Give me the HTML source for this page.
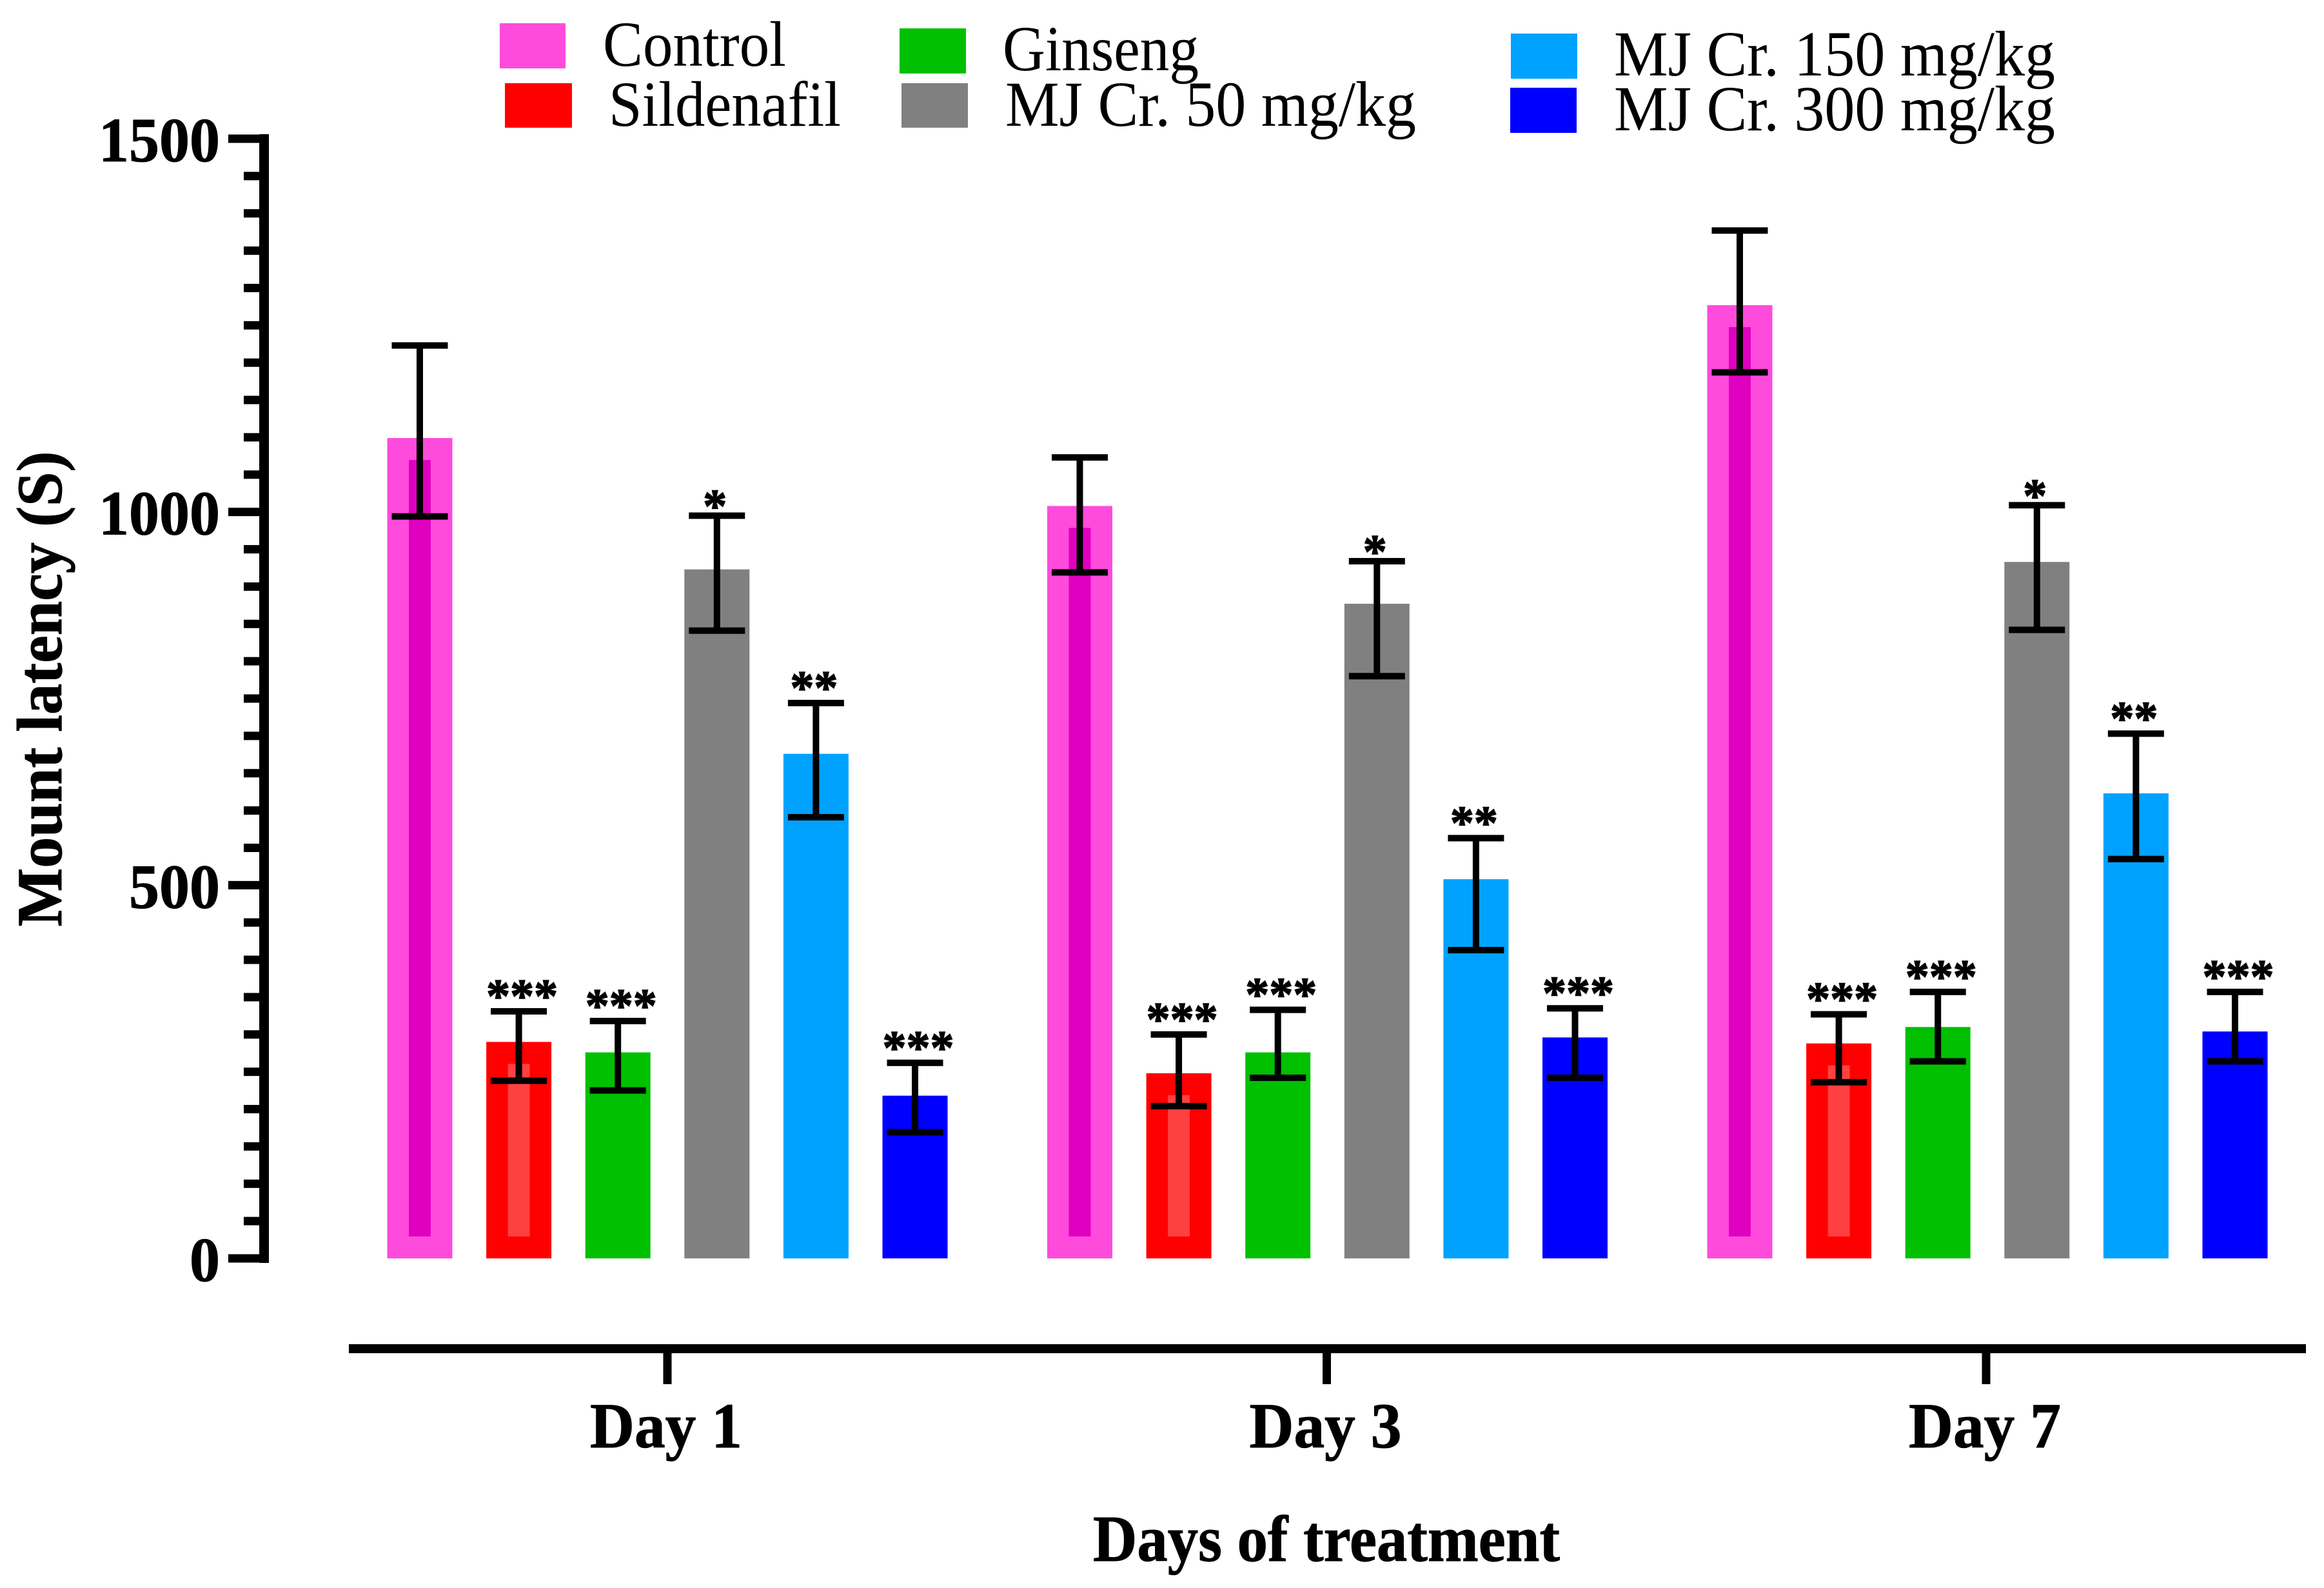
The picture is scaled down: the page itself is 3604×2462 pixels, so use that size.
<!DOCTYPE html>
<html>
<head>
<meta charset="utf-8">
<title>Mount latency chart</title>
<style>
html,body{margin:0;padding:0;background:#fff;width:3604px;height:2462px;overflow:hidden}
svg{display:block}
text{font-family:"Liberation Serif",serif;fill:#000}
.b{font-weight:bold;stroke:#000;stroke-width:1}
</style>
</head>
<body>
<svg id="chart" xmlns="http://www.w3.org/2000/svg" width="3604" height="2462" viewBox="0 0 3604 2462">
  <rect x="0" y="0" width="3604" height="2462" fill="#fff"/>
  <g>
    <g>
      <rect x="775" y="36" width="102" height="70" fill="#FF4BDC"/>
      <text x="935" y="102" font-size="100" textLength="284" lengthAdjust="spacingAndGlyphs">Control</text>
    </g>
    <g>
      <rect x="783" y="129" width="104" height="69" fill="#FF0000"/>
      <text x="944" y="195" font-size="100" textLength="360" lengthAdjust="spacingAndGlyphs">Sildenafil</text>
    </g>
    <g>
      <rect x="1395" y="44" width="103" height="70" fill="#00C000"/>
      <text x="1555" y="109" font-size="100" textLength="304" lengthAdjust="spacingAndGlyphs">Ginseng</text>
    </g>
    <g>
      <rect x="1398" y="129" width="103" height="69" fill="#808080"/>
      <text x="1559" y="195" font-size="100" textLength="637" lengthAdjust="spacingAndGlyphs">MJ Cr. 50 mg/kg</text>
    </g>
    <g>
      <rect x="2343" y="52" width="103" height="70" fill="#00A2FF"/>
      <text x="2503" y="117" font-size="100" textLength="684" lengthAdjust="spacingAndGlyphs">MJ Cr. 150 mg/kg</text>
    </g>
    <g>
      <rect x="2342" y="136" width="103" height="70" fill="#0000FF"/>
      <text x="2503" y="202" font-size="100" textLength="684" lengthAdjust="spacingAndGlyphs">MJ Cr. 300 mg/kg</text>
    </g>
  </g>
  <text class="b" transform="translate(95,1068) rotate(-90)" text-anchor="middle" font-size="100" textLength="737" lengthAdjust="spacingAndGlyphs">Mount latency (S)</text>
  <text class="b" x="2057" y="2420" text-anchor="middle" font-size="102" textLength="724" lengthAdjust="spacingAndGlyphs">Days of treatment</text>
  <g id="y-axis"></g>
  <g id="x-axis"></g>
  <g id="bars"></g>
  <g id="errors"></g>
  <g id="stars"></g>
</svg>
<script>
const days = ["Day 1", "Day 3", "Day 7"];
const seriesNames = ["control", "sildenafil", "ginseng", "mj-cr-50", "mj-cr-150", "mj-cr-300"];
const seriesColors = ["#FF4BDC", "#FF0000", "#00C000", "#808080", "#00A2FF", "#0000FF"];
const significance = ["", "***", "***", "*", "**", "***"];
const yTickLabels = [0, 500, 1000, 1500];

const controlValues = [1099, 1008, 1277];
const sildenafilValues = [290, 248, 288];
const ginsengValues = [276, 276, 310];
const mj50Values = [923, 877, 933];
const mj150Values = [676, 508, 623];
const mj300Values = [218, 296, 304];

const controlUpper = [1223, 1073, 1377];
const sildenafilUpper = [331, 300, 327];
const ginsengUpper = [318, 333, 357];
const mj50Upper = [995, 934, 1009];
const mj150Upper = [744, 563, 703];
const mj300Upper = [262, 335, 357];

const controlLower = [994, 919, 1187];
const sildenafilLower = [238, 204, 236];
const ginsengLower = [225, 242, 264];
const mj50Lower = [841, 780, 842];
const mj150Lower = [591, 413, 535];
const mj300Lower = [169, 242, 264];

const seriesValues = [controlValues, sildenafilValues, ginsengValues, mj50Values, mj150Values, mj300Values];
const seriesUpper = [controlUpper, sildenafilUpper, ginsengUpper, mj50Upper, mj150Upper, mj300Upper];
const seriesLower = [controlLower, sildenafilLower, ginsengLower, mj50Lower, mj150Lower, mj300Lower];

const NS = "http://www.w3.org/2000/svg";
const Y0 = 1951, PX_PER_UNIT = 1.1573;
const BAR_W = 101, CAP_W = 87, CAP_T = 10, STEM_W = 10;
const INNER_W = 34, INNER_INSET = 34;
const yScale = v => Y0 - v * PX_PER_UNIT;
const xBar = (d, s) => 651 + d * 1023.5 + s * 153.6;
const xDay = d => 1035 + d * 1022.5;

function mk(tag, attrs, parent) {
  const el = document.createElementNS(NS, tag);
  for (const k in attrs) el.setAttribute(k, attrs[k]);
  parent.appendChild(el);
  return el;
}

const yAxis = document.getElementById("y-axis");
const xAxis = document.getElementById("x-axis");
const barsG = document.getElementById("bars");
const errG = document.getElementById("errors");
const starsG = document.getElementById("stars");

const yLine = mk("rect", {x: 402, y: yScale(1500) - 7, width: 15, height: yScale(0) - yScale(1500) + 14, fill: "#000"}, yAxis);



for (let v = 0; v <= 1500; v += 50) {
  const major = v % 500 === 0;
  const x0 = major ? 354 : 378;
  const t = mk("rect", {x: x0, y: yScale(v) - 6.5, width: 402 - x0, height: 13, fill: "#000"}, yAxis);
  
  
}
yTickLabels.forEach(v => {
  const t = mk("text", {x: 341, y: yScale(v) + 35, "text-anchor": "end", "font-size": 98, textLength: String(v).length * 47, lengthAdjust: "spacingAndGlyphs", class: "b"}, yAxis);
  t.textContent = v;
  
  
});

const xLine = mk("rect", {x: 541, y: 2084, width: 3035, height: 14, fill: "#000"}, xAxis);



days.forEach((day, d) => {
  const tick = mk("rect", {x: xDay(d) - 6.5, y: 2098, width: 13, height: 48, fill: "#000"}, xAxis);
  
  
  const lab = mk("text", {x: xDay(d) - 2, y: 2244, "text-anchor": "middle", "font-size": 100, textLength: 236, lengthAdjust: "spacingAndGlyphs", class: "b"}, xAxis);
  lab.textContent = day;
  
  

  seriesNames.forEach((name, s) => {
    const cx = xBar(d, s);
    const v = seriesValues[s][d];
    const top = yScale(v);
    const bar = mk("rect", {x: cx - BAR_W / 2, y: top, width: BAR_W, height: Y0 - top, fill: seriesColors[s]}, barsG);
    
    
    if (s < 2) {
      const inner = mk("rect", {x: cx - INNER_W / 2, y: top + INNER_INSET, width: INNER_W, height: Y0 - top - 2 * INNER_INSET, fill: s === 0 ? "#E000C0" : "#FF4040"}, barsG);
      
      
    }
    const yU = yScale(seriesUpper[s][d]);
    const yL = yScale(seriesLower[s][d]);
    const ex = cx;
    const stem = mk("rect", {x: ex - STEM_W / 2, y: yU, width: STEM_W, height: yL - yU, fill: "#000"}, errG);
    
    
    const capU = mk("rect", {x: ex - CAP_W / 2, y: yU - CAP_T / 2, width: CAP_W, height: CAP_T, fill: "#000"}, errG);
    
    
    const capL = mk("rect", {x: ex - CAP_W / 2, y: yL - CAP_T / 2, width: CAP_W, height: CAP_T, fill: "#000"}, errG);
    
    
    const mark = significance[s];
    if (mark) {
      const st = mk("text", {x: cx + (mark.length === 3 ? 5 : -3), y: yU + (mark.length === 1 ? 10 : 1), "text-anchor": "middle", "font-size": 74, textLength: mark.length * 37, lengthAdjust: "spacing", class: "b"}, starsG);
      st.setAttribute('style', 'stroke-width:1.5');
      st.textContent = mark;
      
      
    }
  });
});
</script>
</body>
</html>
